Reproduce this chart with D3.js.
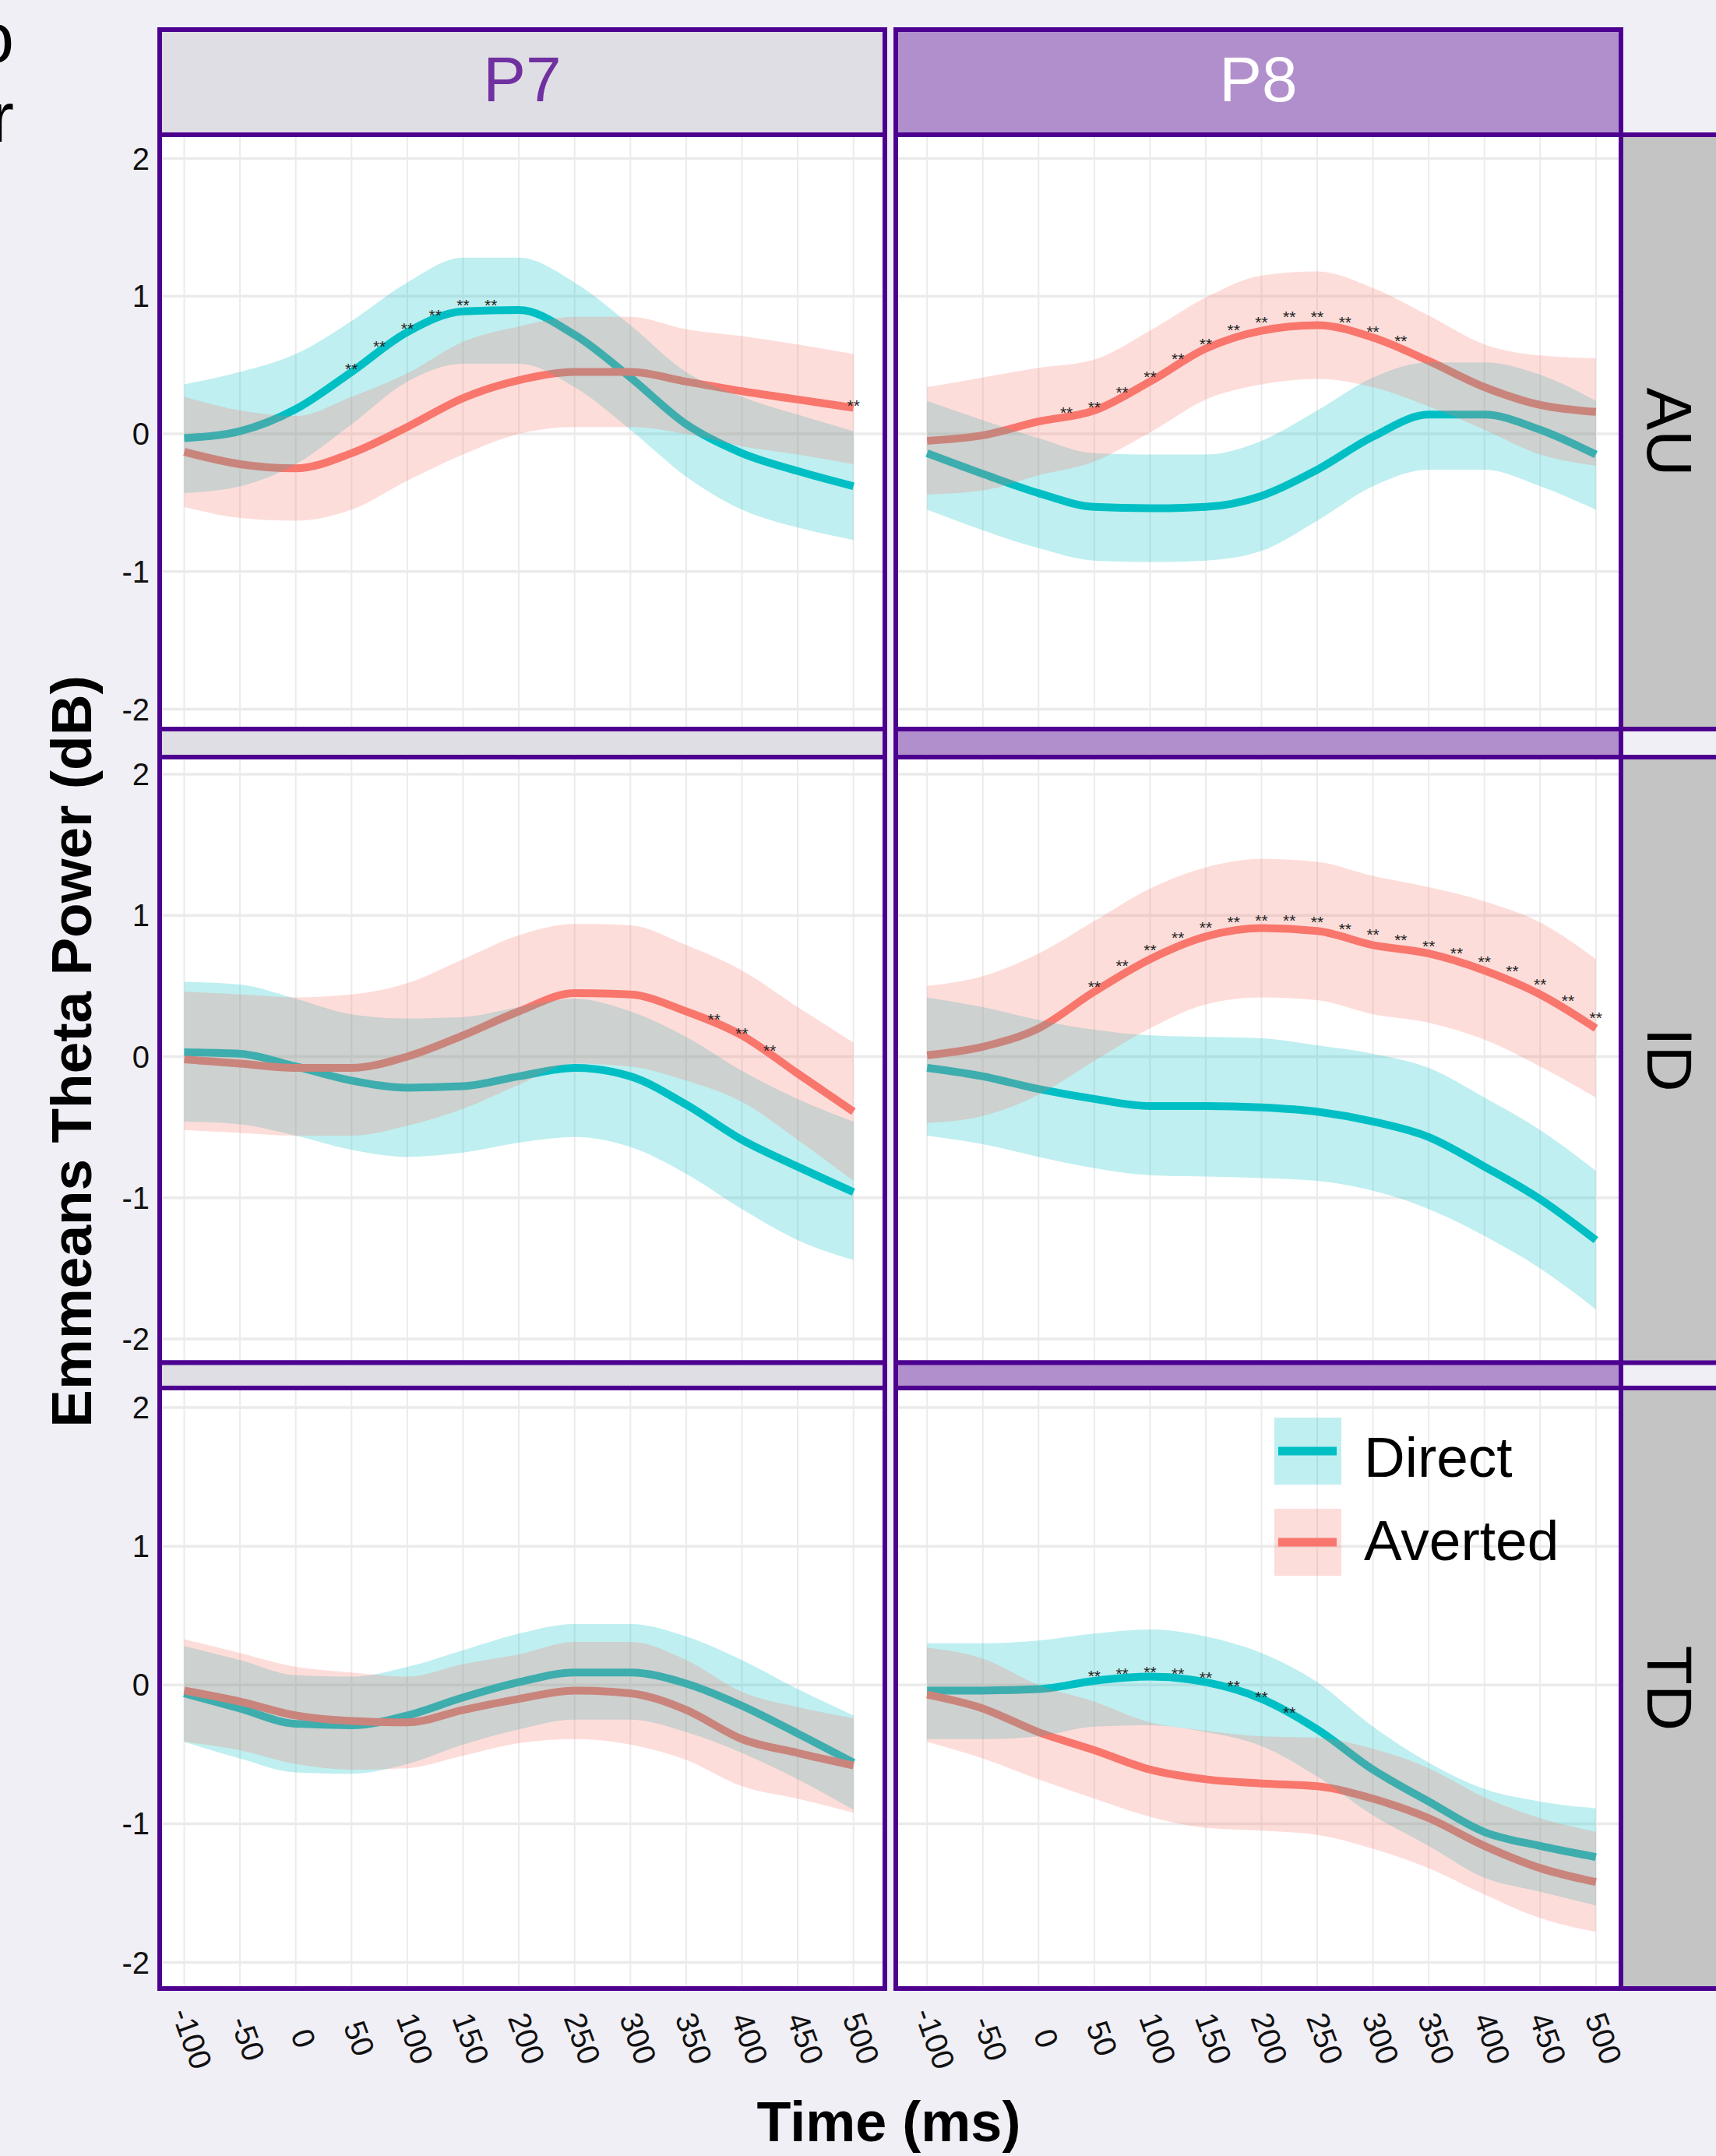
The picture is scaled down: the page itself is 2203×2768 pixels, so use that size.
<!DOCTYPE html>
<html>
<head>
<meta charset="utf-8">
<script src="https://cdn.jsdelivr.net/npm/d3@7"></script>
<style>
  body { margin: 0; background: #f1eff6; }
  svg { display: block; font-family: 'Liberation Sans', Arial, Helvetica, sans-serif; }
</style>
</head>
<body>
<div id="chart"></div>
<script>
// ---- data (50 ms steps) ----
const times = [-100, -50, 0, 50, 100, 150, 200, 250, 300, 350, 400, 450, 500];
const xTicks = [-100, -50, 0, 50, 100, 150, 200, 250, 300, 350, 400, 450, 500];
const yTicks = [-2, -1, 0, 1, 2];
const electrodes = ['P7', 'P8'];
const groups = ['AU', 'ID', 'TD'];
const conditions = ['Direct', 'Averted'];

// P7 / AU
const p7AuDirect = [-0.03, 0.02, 0.18, 0.45, 0.74, 0.89, 0.90, 0.72, 0.41, 0.07, -0.14, -0.27, -0.38];
const p7AuDirectLo = [-0.43, -0.38, -0.22, 0.07, 0.38, 0.51, 0.51, 0.34, 0.03, -0.31, -0.55, -0.68, -0.77];
const p7AuDirectHi = [0.36, 0.45, 0.58, 0.82, 1.10, 1.28, 1.28, 1.10, 0.79, 0.45, 0.27, 0.14, 0.02];
const p7AuAverted = [-0.13, -0.22, -0.25, -0.14, 0.05, 0.26, 0.39, 0.45, 0.45, 0.38, 0.31, 0.25, 0.19];
const p7AuAvertedLo = [-0.53, -0.61, -0.63, -0.55, -0.34, -0.15, 0.00, 0.05, 0.05, 0.00, -0.09, -0.15, -0.22];
const p7AuAvertedHi = [0.27, 0.17, 0.13, 0.27, 0.44, 0.67, 0.78, 0.85, 0.85, 0.76, 0.71, 0.65, 0.58];

// P8 / AU
const p8AuDirect = [-0.14, -0.29, -0.43, -0.53, -0.54, -0.53, -0.45, -0.26, -0.02, 0.14, 0.14, 0.03, -0.15];
const p8AuDirectLo = [-0.55, -0.70, -0.83, -0.92, -0.93, -0.92, -0.85, -0.63, -0.38, -0.26, -0.26, -0.38, -0.55];
const p8AuDirectHi = [0.24, 0.10, -0.03, -0.14, -0.15, -0.15, -0.05, 0.17, 0.41, 0.52, 0.52, 0.43, 0.24];
const p8AuAverted = [-0.05, -0.01, 0.09, 0.17, 0.38, 0.62, 0.75, 0.79, 0.70, 0.53, 0.34, 0.21, 0.16];
const p8AuAvertedLo = [-0.44, -0.41, -0.30, -0.20, 0.01, 0.25, 0.36, 0.40, 0.34, 0.20, 0.03, -0.15, -0.23];
const p8AuAvertedHi = [0.34, 0.41, 0.48, 0.54, 0.75, 0.99, 1.15, 1.18, 1.06, 0.86, 0.65, 0.57, 0.55];

// P7 / ID
const p7IdDirect = [0.03, 0.02, -0.07, -0.17, -0.22, -0.21, -0.14, -0.08, -0.14, -0.34, -0.59, -0.78, -0.96];
const p7IdDirectLo = [-0.46, -0.48, -0.56, -0.66, -0.71, -0.68, -0.61, -0.57, -0.64, -0.83, -1.08, -1.30, -1.44];
const p7IdDirectHi = [0.53, 0.51, 0.41, 0.30, 0.27, 0.28, 0.35, 0.41, 0.32, 0.14, -0.10, -0.30, -0.46];
const p7IdAverted = [-0.02, -0.05, -0.08, -0.08, 0.00, 0.15, 0.32, 0.45, 0.44, 0.32, 0.15, -0.12, -0.39];
const p7IdAvertedLo = [-0.52, -0.54, -0.56, -0.56, -0.49, -0.37, -0.20, -0.05, -0.07, -0.17, -0.32, -0.59, -0.88];
const p7IdAvertedHi = [0.46, 0.44, 0.42, 0.44, 0.52, 0.69, 0.86, 0.94, 0.93, 0.79, 0.61, 0.35, 0.10];

// P8 / ID
const p8IdDirect = [-0.08, -0.14, -0.23, -0.30, -0.35, -0.35, -0.36, -0.39, -0.46, -0.57, -0.78, -1.01, -1.30];
const p8IdDirectLo = [-0.56, -0.62, -0.71, -0.79, -0.84, -0.85, -0.86, -0.88, -0.95, -1.08, -1.27, -1.50, -1.79];
const p8IdDirectHi = [0.42, 0.35, 0.26, 0.19, 0.15, 0.14, 0.13, 0.08, 0.02, -0.08, -0.29, -0.52, -0.81];
const p8IdAverted = [0.01, 0.07, 0.20, 0.46, 0.69, 0.85, 0.91, 0.89, 0.79, 0.73, 0.61, 0.44, 0.20];
const p8IdAvertedLo = [-0.47, -0.42, -0.27, -0.03, 0.20, 0.37, 0.42, 0.40, 0.30, 0.24, 0.12, -0.07, -0.29];
const p8IdAvertedHi = [0.50, 0.57, 0.73, 0.96, 1.19, 1.34, 1.40, 1.38, 1.28, 1.20, 1.10, 0.95, 0.69];

// P7 / TD
const p7TdDirect = [-0.06, -0.17, -0.28, -0.29, -0.22, -0.09, 0.02, 0.09, 0.09, 0.01, -0.15, -0.35, -0.56];
const p7TdDirectLo = [-0.41, -0.53, -0.63, -0.64, -0.57, -0.43, -0.32, -0.25, -0.25, -0.34, -0.49, -0.68, -0.90];
const p7TdDirectHi = [0.28, 0.18, 0.07, 0.06, 0.13, 0.25, 0.37, 0.44, 0.44, 0.35, 0.18, -0.03, -0.22];
const p7TdAverted = [-0.04, -0.12, -0.22, -0.26, -0.27, -0.18, -0.10, -0.04, -0.06, -0.18, -0.39, -0.49, -0.58];
const p7TdAvertedLo = [-0.41, -0.47, -0.57, -0.61, -0.60, -0.51, -0.42, -0.39, -0.43, -0.54, -0.73, -0.82, -0.92];
const p7TdAvertedHi = [0.33, 0.23, 0.13, 0.09, 0.06, 0.15, 0.22, 0.31, 0.31, 0.18, -0.05, -0.16, -0.24];

// P8 / TD
const p8TdDirect = [-0.04, -0.04, -0.03, 0.03, 0.06, 0.02, -0.10, -0.32, -0.61, -0.84, -1.06, -1.16, -1.24];
const p8TdDirectLo = [-0.39, -0.39, -0.37, -0.30, -0.29, -0.34, -0.44, -0.66, -0.94, -1.16, -1.39, -1.49, -1.59];
const p8TdDirectHi = [0.30, 0.30, 0.32, 0.37, 0.40, 0.35, 0.23, 0.02, -0.30, -0.56, -0.75, -0.84, -0.89];
const p8TdAverted = [-0.07, -0.17, -0.34, -0.47, -0.61, -0.68, -0.71, -0.73, -0.82, -0.96, -1.16, -1.32, -1.42];
const p8TdAvertedLo = [-0.41, -0.53, -0.68, -0.82, -0.95, -1.03, -1.05, -1.08, -1.18, -1.32, -1.51, -1.68, -1.78];
const p8TdAvertedHi = [0.27, 0.19, 0.00, -0.12, -0.27, -0.33, -0.37, -0.38, -0.46, -0.60, -0.81, -0.96, -1.06];

// significance marks ("**"), time and height of the mark
const sigP7AuDirectT = [50, 75, 100, 125, 150, 175];
const sigP7AuDirectV = [0.50, 0.66, 0.79, 0.89, 0.96, 0.96];
const sigP7AuAvertedT = [500];
const sigP7AuAvertedV = [0.23];
const sigP8AuAvertedT = [25, 50, 75, 100, 125, 150, 175, 200, 225, 250, 275, 300, 325];
const sigP8AuAvertedV = [0.18, 0.22, 0.33, 0.44, 0.57, 0.68, 0.78, 0.84, 0.88, 0.88, 0.84, 0.77, 0.70];
const sigP7IdAvertedT = [375, 400, 425];
const sigP7IdAvertedV = [0.29, 0.19, 0.07];
const sigP8IdAvertedT = [50, 75, 100, 125, 150, 175, 200, 225, 250, 275, 300, 325, 350, 375, 400, 425, 450, 475, 500];
const sigP8IdAvertedV = [0.52, 0.67, 0.78, 0.87, 0.94, 0.98, 0.99, 0.99, 0.98, 0.93, 0.89, 0.85, 0.81, 0.76, 0.70, 0.63, 0.54, 0.42, 0.30];
const sigP8TdDirectT = [50, 75, 100, 125, 150, 175, 200, 225];
const sigP8TdDirectV = [0.09, 0.11, 0.12, 0.11, 0.08, 0.02, -0.06, -0.17];

const series = (mean, lo, hi) => times.map((t, i) => ({ t, mean: mean[i], lo: lo[i], hi: hi[i] }));
const marks = (ts, vs) => ts.map((t, i) => ({ t, v: vs[i] }));

const panels = [
  { col: 0, row: 0, direct: series(p7AuDirect, p7AuDirectLo, p7AuDirectHi), averted: series(p7AuAverted, p7AuAvertedLo, p7AuAvertedHi),
    sig: marks(sigP7AuDirectT, sigP7AuDirectV).concat(marks(sigP7AuAvertedT, sigP7AuAvertedV)) },
  { col: 1, row: 0, direct: series(p8AuDirect, p8AuDirectLo, p8AuDirectHi), averted: series(p8AuAverted, p8AuAvertedLo, p8AuAvertedHi),
    sig: marks(sigP8AuAvertedT, sigP8AuAvertedV) },
  { col: 0, row: 1, direct: series(p7IdDirect, p7IdDirectLo, p7IdDirectHi), averted: series(p7IdAverted, p7IdAvertedLo, p7IdAvertedHi),
    sig: marks(sigP7IdAvertedT, sigP7IdAvertedV) },
  { col: 1, row: 1, direct: series(p8IdDirect, p8IdDirectLo, p8IdDirectHi), averted: series(p8IdAverted, p8IdAvertedLo, p8IdAvertedHi),
    sig: marks(sigP8IdAvertedT, sigP8IdAvertedV) },
  { col: 0, row: 2, direct: series(p7TdDirect, p7TdDirectLo, p7TdDirectHi), averted: series(p7TdAverted, p7TdAvertedLo, p7TdAvertedHi),
    sig: [] },
  { col: 1, row: 2, direct: series(p8TdDirect, p8TdDirectLo, p8TdDirectHi), averted: series(p8TdAverted, p8TdAvertedLo, p8TdAvertedHi),
    sig: marks(sigP8TdDirectT, sigP8TdDirectV) },
];

// ---- layout ----
const width = 2203;
const height = 2768;
const border = '#4d0090';
const colours = { Direct: '#00BFC4', Averted: '#F8766D' };

const cols = [
  { x0: 205, x1: 1136, left: 236.5, right: 1095.7, fill: '#dfdee4', label: '#7030a0' },
  { x0: 1150, x1: 2081, left: 1190.2, right: 2048.8, fill: '#b18fcc', label: '#ffffff' },
];
const rows = [
  { strip: 38, y0: 173, y1: 936, top: 203.6, bottom: 910.6 },
  { strip: 936, y0: 972, y1: 1749.5, top: 994, bottom: 1719 },
  { strip: 1749.5, y0: 1782, y1: 2553, top: 1807, bottom: 2519.5 },
];

const svg = d3.select('#chart').append('svg')
  .attr('width', width)
  .attr('height', height);

svg.append('rect').attr('width', width).attr('height', height).attr('fill', '#f1eff6');

// text fragments cut by the left edge, as in the source figure
svg.append('text').attr('x', -32).attr('y', 80).attr('font-size', 90).attr('fill', '#000').text('o');
svg.append('text').attr('x', -12).attr('y', 182).attr('font-size', 90).attr('fill', '#000').text('r');

const clip = svg.append('defs');

panels.forEach((p, i) => {
  const c = cols[p.col];
  const r = rows[p.row];
  const x = d3.scaleLinear().domain([-100, 500]).range([c.left, c.right]);
  const y = d3.scaleLinear().domain([-2, 2]).range([r.bottom, r.top]);

  clip.append('clipPath').attr('id', `clip${i}`)
    .append('rect').attr('x', c.x0).attr('y', r.y0).attr('width', c.x1 - c.x0).attr('height', r.y1 - r.y0);

  const g = svg.append('g').attr('clip-path', `url(#clip${i})`);
  g.append('rect').attr('x', c.x0).attr('y', r.y0).attr('width', c.x1 - c.x0).attr('height', r.y1 - r.y0).attr('fill', '#fff');

  g.selectAll('.vgrid').data(xTicks).enter().append('line')
    .attr('x1', d => x(d)).attr('x2', d => x(d))
    .attr('y1', r.y0).attr('y2', r.y1)
    .attr('stroke', '#ebebeb').attr('stroke-width', 2);
  g.selectAll('.hgrid').data(yTicks).enter().append('line')
    .attr('x1', c.x0).attr('x2', c.x1)
    .attr('y1', d => y(d)).attr('y2', d => y(d))
    .attr('stroke', '#ebebeb').attr('stroke-width', 3.5);

  const line = d3.line().x(d => x(d.t)).y(d => y(d.mean)).curve(d3.curveMonotoneX);
  const area = d3.area().x(d => x(d.t)).y0(d => y(d.lo)).y1(d => y(d.hi)).curve(d3.curveMonotoneX);

  // lines first, ribbons painted over them
  g.append('path').attr('d', line(p.direct)).attr('fill', 'none').attr('stroke', colours.Direct).attr('stroke-width', 10);
  g.append('path').attr('d', line(p.averted)).attr('fill', 'none').attr('stroke', colours.Averted).attr('stroke-width', 10);
  g.append('path').attr('d', area(p.direct)).attr('fill', colours.Direct).attr('fill-opacity', 0.25);
  g.append('path').attr('d', area(p.averted)).attr('fill', colours.Averted).attr('fill-opacity', 0.25);

  g.selectAll('.sig').data(p.sig).enter().append('text')
    .attr('x', d => x(d.t))
    .attr('y', d => y(d.v) + 12)
    .attr('text-anchor', 'middle')
    .attr('font-size', 21)
    .attr('fill', '#222')
    .text('**');

  if (p.col === 0) {
    svg.selectAll(null).data(yTicks).enter().append('text')
      .attr('x', 192)
      .attr('y', d => y(d))
      .attr('text-anchor', 'end')
      .attr('dominant-baseline', 'central')
      .attr('font-size', 40)
      .attr('fill', '#111')
      .text(d => d);
  }

  if (p.row === rows.length - 1) {
    svg.selectAll(null).data(xTicks).enter().append('text')
      .attr('transform', d => `translate(${x(d) + 10},2617) rotate(70)`)
      .attr('text-anchor', 'middle')
      .attr('dominant-baseline', 'central')
      .attr('font-size', 40)
      .attr('fill', '#111')
      .text(d => d);
  }

  svg.append('rect').attr('x', c.x0).attr('y', r.y0).attr('width', c.x1 - c.x0).attr('height', r.y1 - r.y0)
    .attr('fill', 'none').attr('stroke', border).attr('stroke-width', 6);
});

// column strips (tall with label on first row, thin on the others)
rows.forEach((r, ri) => {
  cols.forEach((c, ci) => {
    svg.append('rect').attr('x', c.x0).attr('y', r.strip).attr('width', c.x1 - c.x0).attr('height', r.y0 - r.strip)
      .attr('fill', c.fill).attr('stroke', border).attr('stroke-width', 6);
    if (ri === 0) {
      svg.append('text')
        .attr('x', (c.x0 + c.x1) / 2).attr('y', 130)
        .attr('text-anchor', 'middle')
        .attr('font-size', 82)
        .attr('fill', c.label)
        .text(electrodes[ci]);
    }
  });
  // row strip on the right
  svg.append('rect').attr('x', 2081).attr('y', r.y0).attr('width', 140).attr('height', r.y1 - r.y0)
    .attr('fill', '#c4c4c4').attr('stroke', border).attr('stroke-width', 6);
  svg.append('text')
    .attr('transform', `translate(2143,${(r.y0 + r.y1) / 2}) rotate(90)`)
    .attr('text-anchor', 'middle')
    .attr('dominant-baseline', 'central')
    .attr('font-size', 82)
    .attr('fill', '#000')
    .text(groups[ri]);
});

// legend inside the P8 / TD panel
const legend = svg.append('g');
conditions.forEach((name, i) => {
  const ky = 1820 + i * 117;
  legend.append('rect').attr('x', 1636).attr('y', ky).attr('width', 86).attr('height', 86)
    .attr('fill', colours[name]).attr('fill-opacity', 0.25);
  legend.append('line').attr('x1', 1641).attr('x2', 1716).attr('y1', ky + 43).attr('y2', ky + 43)
    .attr('stroke', colours[name]).attr('stroke-width', 11);
  legend.append('text').attr('x', 1751).attr('y', 1896 + i * 107)
    .attr('font-size', 73).attr('fill', '#000').text(name);
});

// axis titles
svg.append('text')
  .attr('x', 1141).attr('y', 2749)
  .attr('text-anchor', 'middle')
  .attr('font-size', 72).attr('font-weight', 'bold')
  .text('Time (ms)');

svg.append('text')
  .attr('transform', 'translate(117,1350) rotate(-90)')
  .attr('text-anchor', 'middle')
  .attr('font-size', 73).attr('font-weight', 'bold')
  .text('Emmeans Theta Power (dB)');
</script>
</body>
</html>
